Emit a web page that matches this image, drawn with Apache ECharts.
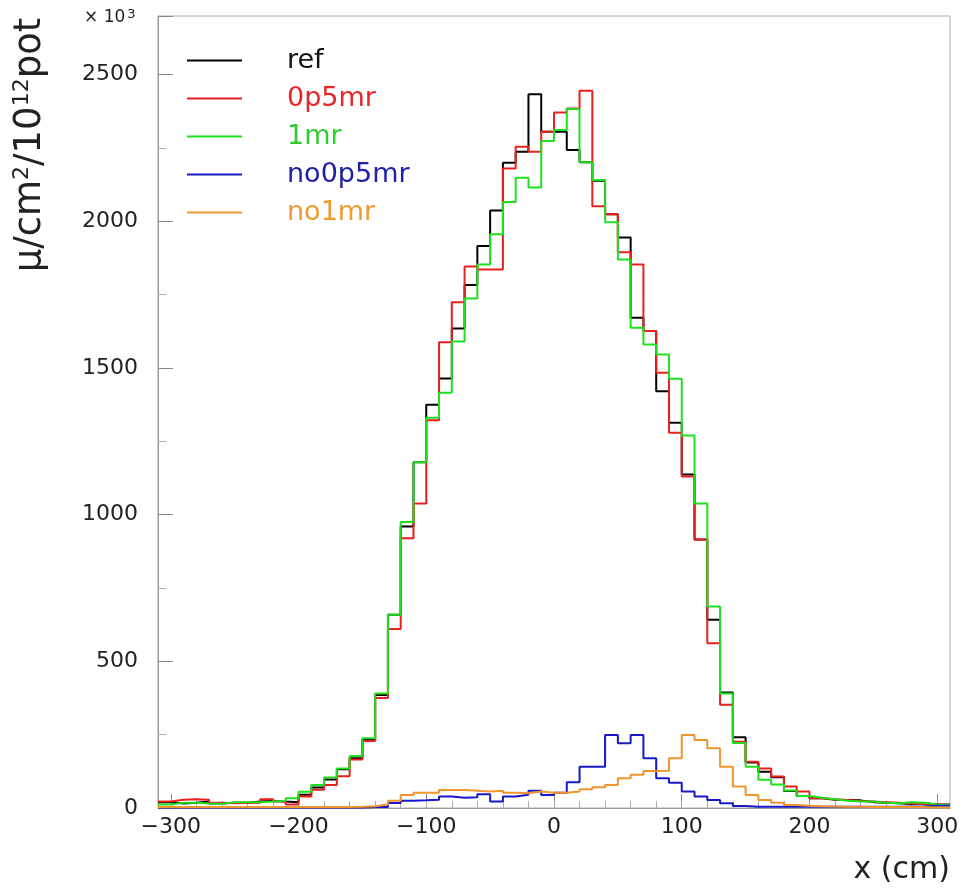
<!DOCTYPE html>
<html>
<head>
<meta charset="utf-8">
<title>muon x profile</title>
<script src="https://cdn.jsdelivr.net/npm/echarts@6/dist/echarts.min.js"></script>
<style>
html, body { margin: 0; padding: 0; background: #fff; }
#main { width: 962px; height: 895px; }
</style>
</head>
<body>
<div id="main"></div>
<script>
// 62 bins of 10 cm, from -310 to 310 (values in units of 10^3)
var xMin = -310;
var xMax = 310;
var binWidth = 10;
var xLabels = [-300, -200, -100, 0, 100, 200, 300];
var xMinorTicks = [-300, -280, -260, -240, -220, -200, -180, -160, -140, -120, -100, -80, -60, -40, -20, 0,
                   20, 40, 60, 80, 100, 120, 140, 160, 180, 200, 220, 240, 260, 280, 300];

var seriesNames = ['ref', '0p5mr', '1mr', 'no0p5mr', 'no1mr'];

var refVals = [20, 15, 18, 22, 15, 18, 18, 22, 25, 22,
               20, 45, 70, 97, 132, 170, 234, 385, 659, 960,
               1179, 1375, 1464, 1635, 1783, 1916, 2037, 2200, 2237, 2433,
               2305, 2305, 2243, 2201, 2138, 2024, 1945, 1671, 1626, 1421,
               1313, 1137, 915, 642, 394, 241, 155, 124, 105, 58,
               41, 33, 28, 27, 26, 20, 18, 16, 14, 16,
               12, 12];
var p5Vals = [22, 28, 30, 28, 18, 16, 17, 18, 30, 22,
              12, 39, 62, 78, 108, 165, 228, 375, 610, 920,
              1038, 1322, 1588, 1724, 1846, 1836, 1836, 2180, 2254, 2237,
              2305, 2371, 2385, 2445, 2051, 2024, 1895, 1853, 1626, 1484,
              1279, 1130, 915, 562, 352, 226, 158, 135, 107, 73,
              56, 33, 30, 27, 24, 22, 20, 18, 15, 14,
              12, 10];
var m1Vals = [12, 18, 18, 15, 14, 20, 20, 20, 22, 25,
              33, 55, 78, 104, 135, 177, 238, 390, 659, 975,
              1179, 1330, 1416, 1590, 1737, 1853, 1956, 2066, 2149, 2115,
              2274, 2311, 2383, 2201, 2141, 1997, 1870, 1637, 1580, 1546,
              1463, 1270, 1038, 687, 390, 222, 141, 96, 80, 60,
              41, 35, 30, 25, 22, 22, 18, 16, 20, 18,
              12, 10];
var no5Vals = [2, 2, 2, 2, 2, 2, 2, 2, 2, 2,
               2, 2, 2, 2, 2, 2, 3, 3, 17, 25,
               26, 28, 39, 35, 37, 47, 22, 39, 45, 59,
               44, 52, 88, 141, 141, 249, 221, 249, 170, 101,
               86, 56, 39, 27, 16, 7, 4, 4, 4, 4,
               4, 4, 4, 4, 4, 4, 4, 4, 5, 6,
               8, 8];
var no1Vals = [3, 3, 3, 3, 3, 3, 3, 3, 3, 3,
               3, 3, 3, 3, 3, 4, 6, 12, 25, 44,
               52, 52, 61, 61, 59, 56, 59, 52, 50, 56,
               52, 52, 56, 64, 71, 78, 101, 113, 126, 127,
               170, 249, 232, 204, 141, 73, 44, 27, 18, 10,
               8, 6, 5, 4, 4, 3, 3, 3, 3, 3,
               2, 2];

var lineColors = ['#000000', '#e8201e', '#1fe01f', '#1818c8', '#f0962c'];
var textColors = ['#111111', '#e8262a', '#2fcc2f', '#2020a8', '#ee9a30'];

// bin contents -> step outline points at the bin edges
function histData(vals) {
  var pts = [];
  for (var i = 0; i < vals.length; i++) {
    pts.push([xMin + i * binWidth, vals[i]]);
  }
  pts.push([xMax, vals[vals.length - 1]]);
  return pts;
}

var allVals = [refVals, p5Vals, m1Vals, no5Vals, no1Vals];
var seriesList = [];
for (var k = 0; k < seriesNames.length; k++) {
  seriesList.push({
    name: seriesNames[k],
    type: 'line',
    step: 'end',
    symbol: 'none',
    xAxisIndex: 0,
    data: histData(allVals[k]),
    lineStyle: { color: lineColors[k], width: 2 },
    itemStyle: { color: lineColors[k] }
  });
}

var legendData = seriesNames.map(function (n, k) {
  return { name: n, textStyle: { color: textColors[k] } };
});

var myChart = echarts.init(document.getElementById('main'));
myChart.setOption({
  animation: false,
  backgroundColor: '#fff',
  grid: {
    left: 158, right: 12, top: 16, bottom: 87,
    show: true, borderColor: '#aaa', borderWidth: 1
  },
  legend: {
    orient: 'vertical',
    left: 182, top: 42,
    itemWidth: 55, itemHeight: 2,
    itemGap: 11,
    icon: 'rect',
    data: legendData,
    textStyle: { fontFamily: 'DejaVu Sans', fontSize: 27, padding: [0, 0, 0, 40] }
  },
  xAxis: [{
    type: 'value', min: xMin, max: xMax,
    axisLine: { onZero: false, lineStyle: { color: '#999' } },
    axisTick: { inside: true, length: 14, customValues: xLabels, lineStyle: { color: '#888' } },
    axisLabel: {
      customValues: xLabels, color: '#222', fontFamily: 'DejaVu Sans', fontSize: 22, margin: 8,
      formatter: function (v) { return v < 0 ? '\u2212' + Math.abs(v) : '' + v; }
    },
    splitLine: { show: false }
  }, {
    type: 'value', min: xMin, max: xMax, position: 'bottom',
    axisLine: { show: false },
    axisTick: { inside: true, length: 7, customValues: xMinorTicks, lineStyle: { color: '#aaa' } },
    axisLabel: { show: false },
    splitLine: { show: false }
  }],
  yAxis: {
    type: 'value', min: 0, max: 2700, interval: 500,
    axisLine: { show: true, onZero: false, lineStyle: { color: '#999' } },
    axisTick: { show: true, inside: true, length: 15, lineStyle: { color: '#888' } },
    minorTick: { show: true, splitNumber: 2, length: 8, lineStyle: { color: '#aaa' } },
    axisLabel: {
      color: '#222', fontFamily: 'DejaVu Sans', fontSize: 22, margin: 20,
      showMaxLabel: false,
      formatter: function (v) { return '' + v; }
    },
    splitLine: { show: false }
  },
  graphic: [{
    type: 'text',
    x: 30, y: 145,
    rotation: Math.PI / 2,
    style: {
      text: '\u03bc/cm{s|2}/10{s|12}pot',
      font: '37px "DejaVu Sans"',
      fill: '#222',
      align: 'center', verticalAlign: 'middle',
      rich: { s: { fontSize: 22, fontFamily: 'DejaVu Sans', fill: '#222', verticalAlign: 'top', padding: [0, 0, 13, 0] } }
    }
  }, {
    type: 'text',
    x: 84, y: 8,
    style: {
      text: '\u00d7 10{s|3}',
      font: '17px "DejaVu Sans"',
      fill: '#222',
      rich: { s: { fontSize: 13, fontFamily: 'DejaVu Sans', fill: '#222', verticalAlign: 'top', padding: [0, 0, 6, 2] } }
    }
  }, {
    type: 'text',
    right: 12, top: 855,
    style: {
      text: 'x (cm)',
      font: '30px "DejaVu Sans"',
      fill: '#222'
    }
  }],
  series: seriesList
});
</script>
</body>
</html>
